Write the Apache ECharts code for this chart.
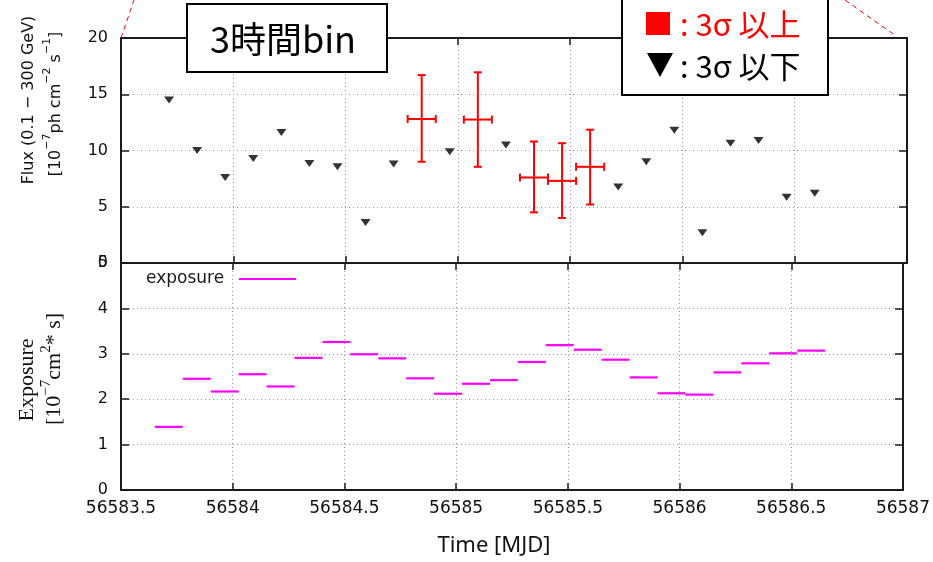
<!DOCTYPE html>
<html>
<head>
<meta charset="utf-8">
<script src="https://cdn.jsdelivr.net/npm/echarts@6/dist/echarts.min.js"></script>
<style>
  html, body { margin: 0; padding: 0; background: #ffffff; }
  #chart { width: 933px; height: 562px; }
</style>
</head>
<body>
<div id="chart"></div>
<script>
// Fermi-LAT light curve, 3-hour bins (MJD)
const xTicks = [56583.5, 56584, 56584.5, 56585, 56585.5, 56586, 56586.5, 56587];

// bins below 3 sigma: flux upper limits [1e-7 ph cm^-2 s^-1]
const ulTime = [56583.714, 56583.839, 56583.964, 56584.089, 56584.214, 56584.339, 56584.464,
  56584.589, 56584.714, 56584.964, 56585.214, 56585.714, 56585.839, 56585.964, 56586.089,
  56586.214, 56586.339, 56586.464, 56586.589];
const ulFlux = [14.5, 10.0, 7.6, 9.3, 11.6, 8.85, 8.55, 3.6, 8.8, 9.9, 10.5, 6.75, 9.0, 11.8,
  2.7, 10.65, 10.9, 5.85, 6.2];

// bins above 3 sigma: flux with 1-sigma range
const detTime = [56584.839, 56585.089, 56585.339, 56585.464, 56585.589];
const detFlux = [12.8, 12.75, 7.6, 7.3, 8.55];
const detLow = [9.0, 8.55, 4.5, 4.0, 5.2];
const detHigh = [16.7, 16.95, 10.8, 10.65, 11.85];

// exposure per bin [1e-7 cm^2 s]
const expTime = [56583.714, 56583.839, 56583.964, 56584.089, 56584.214, 56584.339, 56584.464,
  56584.589, 56584.714, 56584.839, 56584.964, 56585.089, 56585.214, 56585.339, 56585.464,
  56585.589, 56585.714, 56585.839, 56585.964, 56586.089, 56586.214, 56586.339, 56586.464,
  56586.589];
const exposure = [1.39, 2.45, 2.17, 2.55, 2.28, 2.91, 3.26, 2.99, 2.90, 2.46, 2.12, 2.34, 2.42,
  2.82, 3.19, 3.09, 2.87, 2.48, 2.13, 2.10, 2.59, 2.79, 3.01, 3.07];

const binHalf = 0.0625; // half of a 3-hour bin, in days

const AXIS = '#1a1a1a';
const GRID = '#9a9a9a';
const TICKFONT = 'DejaVu Sans';

const chart = echarts.init(document.getElementById('chart'), null, { renderer: 'canvas' });

function xAxisDef(gridIndex, position, showLabel) {
  return {
    type: 'value', gridIndex, position,
    min: xTicks[0], max: xTicks[xTicks.length - 1], interval: 0.5,
    axisLine: { show: true, onZero: false, lineStyle: { color: AXIS, width: 2 } },
    axisTick: { show: true, inside: true, length: 7, lineStyle: { color: AXIS, width: 1.5 } },
    axisLabel: {
      show: showLabel, margin: 10, fontFamily: TICKFONT, fontSize: 17, color: '#111',
      formatter: v => String(v)
    },
    splitLine: { show: position === 'bottom', lineStyle: { color: GRID, width: 1, type: [1, 3] } }
  };
}

function yAxisDef(gridIndex, position, max, interval) {
  return {
    type: 'value', gridIndex, position,
    min: 0, max, interval,
    axisLine: { show: true, onZero: false, lineStyle: { color: AXIS, width: 2 } },
    axisTick: { show: true, inside: true, length: 8, lineStyle: { color: AXIS, width: 1.5 } },
    axisLabel: {
      show: position === 'left', margin: 13, fontFamily: TICKFONT, fontSize: 16, color: '#111'
    },
    splitLine: { show: position === 'left', lineStyle: { color: GRID, width: 1, type: [1, 3] } }
  };
}

const errStyle = { stroke: '#ff0000', lineWidth: 2 };
function line(p1, p2, style) {
  return { type: 'line', shape: { x1: p1[0], y1: p1[1], x2: p2[0], y2: p2[1] }, style };
}

const option = {
  backgroundColor: '#ffffff',
  animation: false,
  grid: [
    { left: 121, right: 26, top: 38, height: 225 },
    { left: 121, right: 26, top: 263, height: 227 }
  ],
  xAxis: [
    xAxisDef(0, 'bottom', false),
    xAxisDef(0, 'top', false),
    xAxisDef(1, 'bottom', true),
    xAxisDef(1, 'top', false)
  ],
  yAxis: [
    yAxisDef(0, 'left', 20, 5),
    yAxisDef(0, 'right', 20, 5),
    yAxisDef(1, 'left', 5, 1),
    yAxisDef(1, 'right', 5, 1)
  ],
  series: [
    {
      name: 'upper limit', type: 'scatter', xAxisIndex: 0, yAxisIndex: 0,
      symbol: 'triangle', symbolRotate: 180, symbolSize: [10, 7],
      itemStyle: { color: '#000000' },
      data: ulTime.map((t, i) => [t, ulFlux[i]])
    },
    {
      name: 'flux', type: 'custom', xAxisIndex: 0, yAxisIndex: 0,
      data: detTime.map((t, i) => [t, detFlux[i], detLow[i], detHigh[i]]),
      renderItem: function (params, api) {
        const t = api.value(0), y = api.value(1), lo = api.value(2), hi = api.value(3);
        const pl = api.coord([t - binHalf, y]);
        const pr = api.coord([t + binHalf, y]);
        const pt = api.coord([t, hi]);
        const pb = api.coord([t, lo]);
        const c = 4;
        return {
          type: 'group',
          children: [
            line(pt, pb, errStyle),
            line(pl, pr, errStyle),
            line([pt[0] - c, pt[1]], [pt[0] + c, pt[1]], errStyle),
            line([pb[0] - c, pb[1]], [pb[0] + c, pb[1]], errStyle),
            line([pl[0], pl[1] - c], [pl[0], pl[1] + c], errStyle),
            line([pr[0], pr[1] - c], [pr[0], pr[1] + c], errStyle)
          ]
        };
      }
    },
    {
      name: 'exposure', type: 'custom', xAxisIndex: 2, yAxisIndex: 2,
      data: expTime.map((t, i) => [t, exposure[i]]),
      renderItem: function (params, api) {
        const t = api.value(0), v = api.value(1);
        const a = api.coord([t - binHalf, v]);
        const b = api.coord([t + binHalf, v]);
        return line(a, b, { stroke: '#ff00ff', lineWidth: 2.2 });
      }
    }
  ],
  graphic: [
    // panel axis titles
    {
      type: 'text', x: 29, y: 100, rotation: Math.PI / 2,
      style: {
        text: 'Flux (0.1 − 300 GeV)', fontFamily: 'DejaVu Sans', fontSize: 16, fill: '#111',
        align: 'center', verticalAlign: 'middle'
      }
    },
    {
      type: 'text', x: 53, y: 104, rotation: Math.PI / 2,
      style: {
        text: '{n|[10}{s|−7}{n|ph cm}{s|−2}{n| s}{s|−1}{n|]}',
        align: 'center', verticalAlign: 'middle',
        rich: {
          n: { fontFamily: 'DejaVu Sans', fontSize: 16, fill: '#111', lineHeight: 22, verticalAlign: 'bottom' },
          s: { fontFamily: 'DejaVu Sans', fontSize: 11, fill: '#111', lineHeight: 11, verticalAlign: 'top' }
        }
      }
    },
    {
      type: 'text', x: 27, y: 380, rotation: Math.PI / 2,
      style: {
        text: 'Exposure', fontFamily: 'Liberation Serif', fontSize: 22, fill: '#111',
        align: 'center', verticalAlign: 'middle'
      }
    },
    {
      type: 'text', x: 52, y: 369, rotation: Math.PI / 2,
      style: {
        text: '{n|[10}{s|−7}{n|cm}{s|2}{n|* s]}',
        align: 'center', verticalAlign: 'middle',
        rich: {
          n: { fontFamily: 'Liberation Serif', fontSize: 22, fill: '#111', lineHeight: 26, verticalAlign: 'bottom' },
          s: { fontFamily: 'Liberation Serif', fontSize: 15, fill: '#111', lineHeight: 15, verticalAlign: 'top' }
        }
      }
    },
    {
      type: 'text', x: 494, y: 546,
      style: {
        text: 'Time [MJD]', fontFamily: 'Noto Sans', fontSize: 22, fill: '#111',
        align: 'center', verticalAlign: 'middle'
      }
    },
    // exposure key
    {
      type: 'text', x: 146, y: 279,
      style: {
        text: 'exposure', fontFamily: 'DejaVu Sans', fontSize: 17, fill: '#1a1a1a',
        align: 'left', verticalAlign: 'middle'
      }
    },
    {
      type: 'line', shape: { x1: 239, y1: 279, x2: 296, y2: 279 },
      style: { stroke: '#ff00ff', lineWidth: 2.2 }
    },
    // zoom guide lines
    {
      type: 'line', shape: { x1: 121, y1: 38, x2: 134, y2: 0 }, z: 50,
      style: { stroke: '#ff0000', lineWidth: 1, lineDash: [5, 4] }
    },
    {
      type: 'line', shape: { x1: 845, y1: 0, x2: 896, y2: 36 }, z: 50,
      style: { stroke: '#ff0000', lineWidth: 1, lineDash: [5, 4] }
    },
    // bin size label
    {
      type: 'rect', shape: { x: 187, y: 4, width: 200, height: 68 }, z: 100,
      style: { fill: '#ffffff', stroke: '#000000', lineWidth: 2 }
    },
    {
      type: 'text', x: 283, y: 39, z: 101,
      style: {
        text: '3時間bin', fontFamily: 'Noto Sans CJK JP', fontSize: 36, fill: '#000000',
        align: 'center', verticalAlign: 'middle'
      }
    },
    // significance key
    {
      type: 'rect', shape: { x: 622, y: -4, width: 206, height: 99 }, z: 100,
      style: { fill: '#ffffff', stroke: '#000000', lineWidth: 2 }
    },
    {
      type: 'rect', shape: { x: 646, y: 12, width: 24, height: 23 }, z: 101,
      style: { fill: '#ff0000' }
    },
    {
      type: 'text', x: 680, y: 24, z: 101,
      style: {
        text: ': 3σ 以上', fontFamily: 'Noto Sans CJK JP', fontSize: 31, fill: '#ff0000',
        align: 'left', verticalAlign: 'middle'
      }
    },
    {
      type: 'polygon', shape: { points: [[647, 53], [673, 53], [660, 77]] }, z: 101,
      style: { fill: '#000000' }
    },
    {
      type: 'text', x: 680, y: 66, z: 101,
      style: {
        text: ': 3σ 以下', fontFamily: 'Noto Sans CJK JP', fontSize: 31, fill: '#000000',
        align: 'left', verticalAlign: 'middle'
      }
    }
  ]
};

chart.setOption(option);
</script>
</body>
</html>
